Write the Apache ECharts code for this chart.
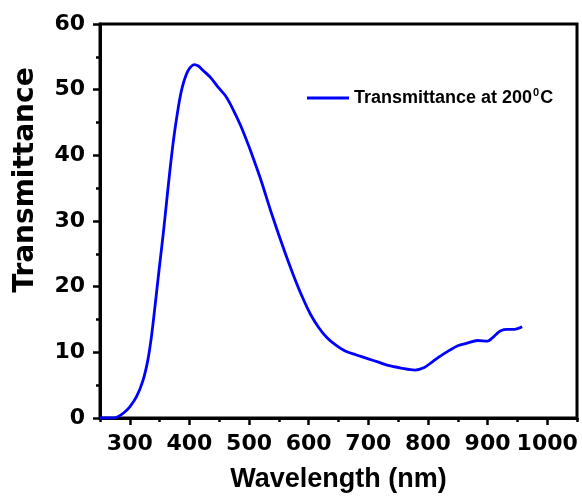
<!DOCTYPE html>
<html>
<head>
<meta charset="utf-8">
<script src="https://cdn.jsdelivr.net/npm/echarts@6/dist/echarts.min.js"></script>
<style>html,body{margin:0;padding:0;background:#fff;}#c{width:582px;height:498px;}</style>
</head>
<body>
<div id="c"></div>
<script>
const wavelength = [250,270,280,290,300,311,322,330,336,342,349,356,362,368,375,386,397,408,415,422,436,447,461,472,486,500,510,520,539,561,575,589,603,617,630,644,661,680,700,717,733,755,778,794,808,822,836,850,866,883,900,908,915,922,933,945,958];
const transmittance = [0,0,0.2,0.8,1.7,3.2,5.7,8.7,12.2,16.8,22.5,28,33.2,38.3,43.5,49.6,52.8,53.8,53.6,53.0,51.8,50.5,49.0,47.2,44.5,41.3,38.8,36.2,30.8,25.0,21.6,18.5,15.8,13.75,12.3,11.2,10.2,9.6,9.0,8.5,8.0,7.6,7.3,7.7,8.6,9.5,10.3,11.0,11.4,11.8,11.7,12.2,12.8,13.3,13.5,13.5,13.9];
const xMajorTicks = [300,400,500,600,700,800,900,1000];
const seriesName = 'Transmittance at 200°C';
const xTitle = 'Wavelength (nm)';
const yTitle = 'Transmittance';

const chart = echarts.init(document.getElementById('c'));
const labelFont = {fontFamily:'DejaVu Sans', fontWeight:'bold', fontSize:22, color:'#000'};
chart.setOption({
  animation:false,
  backgroundColor:'#fff',
  grid:{left:100, right:5, top:24, bottom:77, show:true, borderColor:'#000', borderWidth:3, backgroundColor:'transparent'},
  legend:{
    left:307, top:87, padding:0, icon:'rect', itemWidth:42, itemHeight:3, itemGap:5,
    data:[seriesName],
    formatter:function(){return '{a|Transmittance at 200}{s|0}{a|C}';},
    textStyle:{rich:{
      a:{fontFamily:'Liberation Sans', fontWeight:'bold', fontSize:18, color:'#000', lineHeight:22},
      s:{fontFamily:'Liberation Sans', fontWeight:'bold', fontSize:11, color:'#000', verticalAlign:'top', lineHeight:22, padding:[0,1,12,1]}
    }}
  },
  xAxis:[{
    type:'value', min:250, max:1050,
    name:xTitle, nameLocation:'middle', nameGap:48,
    nameTextStyle:{fontFamily:'Liberation Sans', fontWeight:'bold', fontSize:27, color:'#000'},
    axisLine:{show:true, lineStyle:{color:'#000', width:3}},
    axisTick:{show:true, length:7, lineStyle:{color:'#000', width:2.5}, customValues:xMajorTicks},
    axisLabel:Object.assign({margin:15, customValues:xMajorTicks, formatter:function(v){return String(v);}}, labelFont),
    splitLine:{show:false}
  },{
    type:'value', min:250, max:1050, interval:50, position:'bottom',
    axisLine:{show:false}, axisLabel:{show:false},
    axisTick:{show:true, length:4, lineStyle:{color:'#000', width:2.5}},
    splitLine:{show:false}
  }],
  yAxis:{
    type:'value', min:0, max:60, interval:10,
    axisLine:{show:true, lineStyle:{color:'#000', width:3}},
    axisTick:{show:true, length:7, lineStyle:{color:'#000', width:2.5}},
    minorTick:{show:true, splitNumber:2, length:4, lineStyle:{color:'#000', width:2.5}},
    axisLabel:Object.assign({margin:15}, labelFont),
    splitLine:{show:false}
  },
  graphic:[{
    type:'text', x:26, y:180, rotation:Math.PI/2,
    style:{text:yTitle, x:0, y:0, align:'center', verticalAlign:'middle', fontFamily:'DejaVu Sans', fontWeight:'bold', fontSize:28, fill:'#000'}
  }],
  series:[{
    name:seriesName, type:'line', xAxisIndex:0,
    data:wavelength.map((w,i)=>[w, transmittance[i]]),
    showSymbol:false, symbol:'none', smooth:0.3,
    lineStyle:{color:'#0000ff', width:2.8}, itemStyle:{color:'#0000ff'}
  }]
});
</script>
</body>
</html>
